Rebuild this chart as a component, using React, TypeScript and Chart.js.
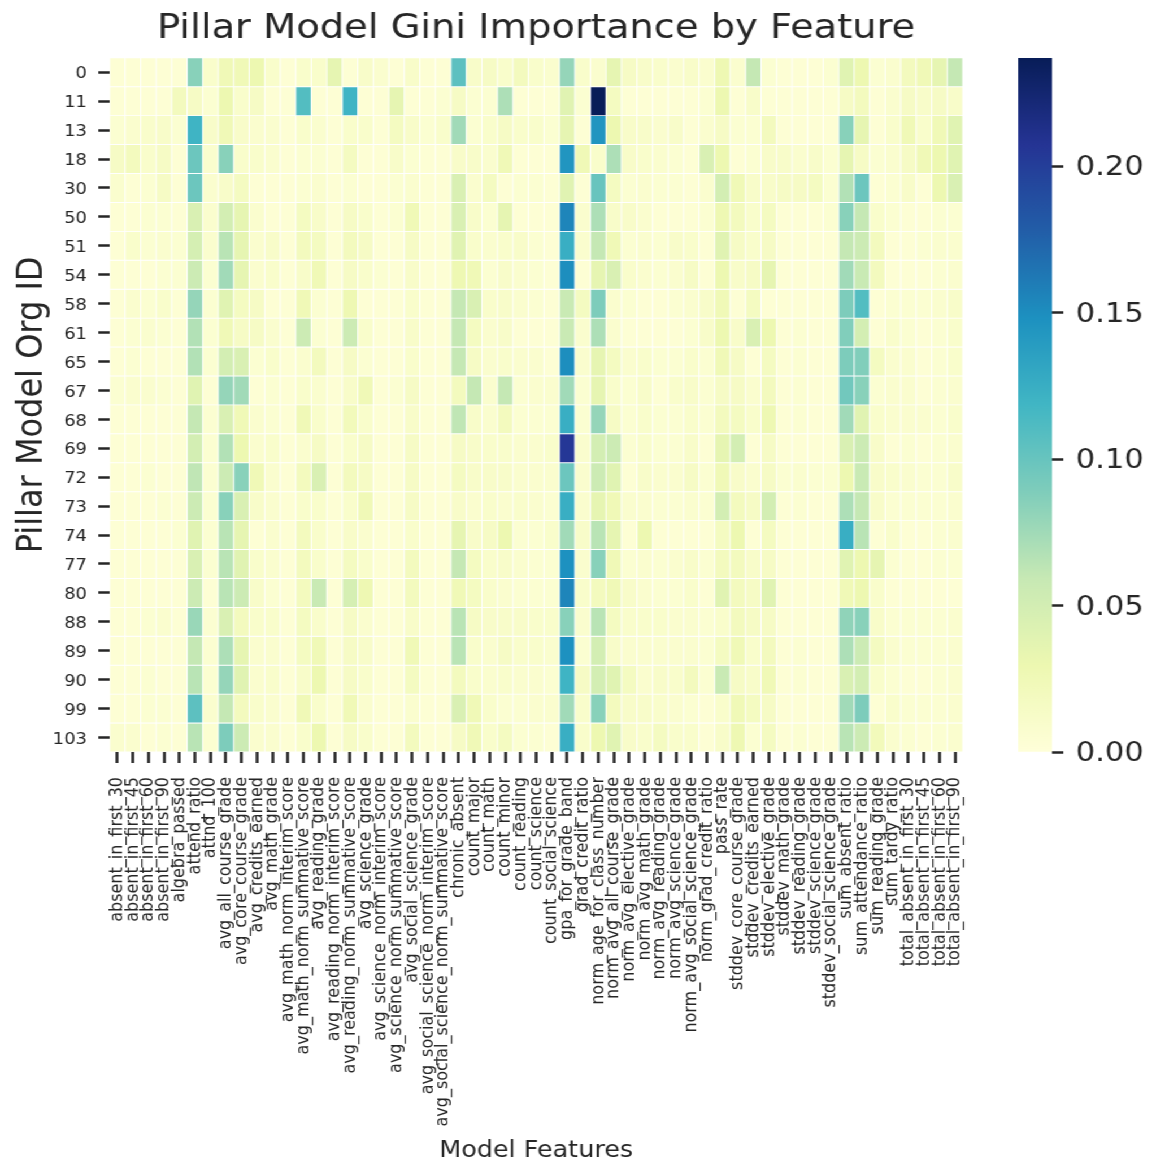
import React, { useEffect, useRef } from 'react';
import { Chart, registerables } from 'chart.js';

Chart.register(...registerables);

// ---------------- data ----------------
const features = [
  'absent_in_first_30', 'absent_in_first_45', 'absent_in_first_60', 'absent_in_first_90', 'algebra_passed',
  'attend_ratio', 'attnd_100', 'avg_all_course_grade', 'avg_core_course_grade', 'avg_credits_earned',
  'avg_math_grade', 'avg_math_norm_interim_score', 'avg_math_norm_summative_score', 'avg_reading_grade', 'avg_reading_norm_interim_score',
  'avg_reading_norm_summative_score', 'avg_science_grade', 'avg_science_norm_interim_score', 'avg_science_norm_summative_score', 'avg_social_science_grade',
  'avg_social_science_norm_interim_score', 'avg_social_science_norm_summative_score', 'chronic_absent', 'count_major', 'count_math',
  'count_minor', 'count_reading', 'count_science', 'count_social_science', 'gpa_for_grade_band',
  'grad_credit_ratio', 'norm_age_for_class_number', 'norm_avg_all_course_grade', 'norm_avg_elective_grade', 'norm_avg_math_grade',
  'norm_avg_reading_grade', 'norm_avg_science_grade', 'norm_avg_social_science_grade', 'norm_grad_credit_ratio', 'pass_rate',
  'stddev_core_course_grade', 'stddev_credits_earned', 'stddev_elective_grade', 'stddev_math_grade', 'stddev_reading_grade',
  'stddev_science_grade', 'stddev_social_science_grade', 'sum_absent_ratio', 'sum_attendance_ratio', 'sum_reading_grade',
  'sum_tardy_ratio', 'total_absent_in_first_30', 'total_absent_in_first_45', 'total_absent_in_first_60', 'total_absent_in_first_90',
];

const orgIds = ['0', '11', '13', '18', '30', '50', '51', '54', '58', '61', '65', '67', '68', '69', '72', '73', '74', '77', '80', '88', '89', '90', '99', '103'];

const row_0 = [.004,.004,.004,.004,.004, .085,.010,.025,.025,.030, .010,.004,.010,.010,.035, .004,.012,.008,.004,.012, .004,.004,.105,.012,.015, .010,.020,.010,.008,.080, .010,.008,.035,.015,.012, .010,.008,.012,.008,.028, .008,.060,.006,.004,.004, .004,.006,.040,.030,.006, .008,.020,.025,.035,.060];
const row_11 = [.004,.004,.004,.004,.020, .015,.006,.030,.010,.015, .004,.004,.110,.004,.004, .120,.004,.004,.035,.004, .004,.006,.015,.006,.006, .070,.004,.004,.004,.040, .006,.237,.018,.004,.004, .004,.004,.004,.006,.030, .004,.012,.004,.004,.004, .004,.004,.015,.020,.004, .008,.015,.012,.015,.012];
const row_13 = [.006,.008,.010,.012,.006, .120,.012,.025,.012,.008, .008,.004,.010,.008,.004, .010,.010,.004,.018,.012, .006,.010,.075,.006,.010, .015,.010,.010,.006,.035, .004,.145,.030,.012,.012, .008,.012,.004,.008,.015, .006,.006,.020,.004,.004, .004,.004,.085,.035,.004, .010,.025,.010,.025,.040];
const row_18 = [.015,.020,.010,.015,.004, .098,.008,.085,.010,.010, .008,.004,.006,.006,.004, .018,.004,.004,.012,.006, .004,.004,.012,.012,.008, .025,.004,.004,.004,.145, .025,.010,.070,.012,.010, .008,.006,.004,.045,.030, .004,.006,.012,.012,.008, .012,.006,.035,.015,.006, .008,.015,.025,.030,.040];
const row_30 = [.008,.004,.006,.015,.004, .098,.008,.012,.018,.004, .004,.004,.006,.008,.004, .006,.004,.004,.006,.008, .004,.004,.045,.008,.018, .004,.006,.006,.004,.040, .004,.100,.018,.006,.008, .006,.006,.004,.008,.050, .025,.012,.012,.015,.015, .018,.006,.068,.098,.004, .006,.012,.004,.030,.045];
const row_50 = [.004,.004,.006,.006,.004, .045,.008,.050,.035,.008, .004,.004,.018,.012,.004, .015,.010,.004,.006,.025, .004,.004,.045,.012,.006, .035,.004,.004,.004,.155, .008,.070,.012,.012,.008, .004,.004,.004,.006,.028, .020,.010,.018,.004,.004, .004,.006,.085,.060,.010, .006,.004,.004,.006,.006];
const row_51 = [.004,.010,.006,.008,.006, .048,.008,.065,.035,.008, .012,.004,.020,.018,.004, .020,.015,.004,.004,.015, .004,.004,.040,.010,.008, .010,.012,.006,.004,.125, .008,.060,.025,.006,.008, .006,.012,.010,.004,.040, .015,.010,.015,.004,.004, .004,.004,.060,.055,.020, .004,.004,.006,.008,.008];
const row_54 = [.004,.004,.004,.006,.006, .055,.006,.075,.035,.008, .010,.004,.012,.025,.004, .015,.010,.006,.004,.012, .004,.004,.028,.025,.006, .012,.008,.006,.004,.150, .004,.035,.045,.010,.008, .006,.008,.015,.004,.030, .012,.015,.035,.004,.004, .004,.004,.075,.058,.020, .004,.004,.004,.006,.008];
const row_58 = [.004,.008,.006,.010,.004, .080,.006,.040,.018,.015, .004,.004,.025,.006,.004, .028,.004,.004,.004,.010, .004,.004,.060,.045,.010, .012,.008,.006,.004,.058, .018,.090,.008,.006,.004, .004,.006,.008,.012,.025, .004,.018,.004,.004,.004, .004,.004,.090,.110,.004, .006,.006,.006,.008,.012];
const row_61 = [.004,.006,.008,.006,.004, .068,.006,.025,.015,.015, .008,.004,.055,.006,.004, .055,.010,.004,.004,.012, .004,.004,.060,.018,.008, .012,.004,.004,.004,.058, .008,.070,.008,.004,.004, .004,.004,.006,.012,.030, .012,.045,.030,.004,.006, .004,.004,.088,.050,.004, .010,.006,.004,.006,.010];
const row_65 = [.004,.006,.004,.004,.004, .068,.006,.050,.045,.006, .010,.004,.008,.020,.004, .015,.006,.004,.004,.010, .004,.004,.060,.015,.008, .010,.008,.008,.004,.150, .008,.035,.018,.008,.010, .006,.006,.010,.006,.025, .015,.004,.018,.004,.006, .004,.004,.090,.088,.018, .008,.008,.004,.006,.010];
const row_67 = [.006,.008,.008,.006,.004, .040,.004,.080,.075,.004, .006,.004,.010,.008,.004, .012,.025,.004,.006,.015, .004,.004,.020,.060,.008, .060,.006,.008,.008,.075, .006,.035,.010,.006,.012, .004,.010,.012,.006,.015, .015,.008,.020,.004,.006, .004,.004,.095,.085,.006, .008,.008,.004,.006,.008];
const row_68 = [.004,.004,.004,.004,.004, .060,.006,.045,.025,.008, .006,.004,.025,.010,.004, .022,.010,.004,.004,.012, .004,.004,.062,.012,.008, .020,.006,.006,.006,.125, .006,.080,.015,.006,.010, .006,.006,.010,.006,.020, .018,.010,.028,.004,.006, .004,.004,.075,.040,.010, .008,.008,.008,.006,.010];
const row_69 = [.004,.004,.004,.004,.004, .050,.006,.068,.030,.008, .010,.004,.008,.015,.004, .010,.015,.004,.004,.015, .004,.004,.015,.012,.010, .010,.008,.008,.010,.205, .008,.050,.055,.006,.010, .006,.006,.012,.004,.035, .050,.004,.015,.004,.004, .004,.004,.045,.055,.012, .004,.006,.004,.006,.008];
const row_72 = [.004,.004,.006,.004,.004, .062,.006,.055,.085,.025, .008,.004,.020,.045,.004, .020,.015,.004,.004,.015, .004,.004,.018,.012,.012, .012,.008,.008,.008,.098, .008,.055,.040,.004,.012, .008,.008,.015,.006,.025, .012,.008,.015,.006,.008, .006,.006,.030,.058,.012, .010,.008,.006,.006,.012];
const row_73 = [.004,.004,.004,.006,.004, .055,.006,.085,.045,.012, .008,.004,.010,.010,.004, .010,.025,.004,.004,.015, .004,.004,.012,.008,.010, .008,.010,.008,.006,.125, .008,.035,.025,.008,.008, .006,.006,.008,.006,.050, .020,.015,.050,.004,.006, .004,.004,.070,.060,.012, .006,.006,.006,.006,.008];
const row_74 = [.004,.004,.004,.004,.006, .040,.006,.065,.035,.004, .008,.004,.020,.010,.004, .012,.008,.004,.004,.010, .004,.004,.035,.012,.015, .030,.006,.006,.010,.075, .012,.065,.035,.004,.030, .004,.004,.004,.004,.018, .030,.004,.018,.004,.004, .004,.004,.125,.065,.004, .010,.004,.004,.006,.008];
const row_77 = [.004,.004,.004,.004,.004, .045,.006,.065,.040,.010, .008,.004,.020,.010,.004, .018,.010,.004,.004,.020, .004,.004,.060,.018,.010, .012,.008,.006,.006,.148, .008,.085,.025,.006,.008, .006,.008,.012,.006,.020, .020,.012,.015,.004,.004, .004,.004,.040,.030,.035, .006,.004,.004,.006,.006];
const row_80 = [.004,.004,.004,.004,.004, .055,.004,.065,.055,.012, .006,.004,.020,.058,.004, .048,.028,.004,.004,.020, .004,.004,.025,.018,.010, .008,.006,.006,.006,.155, .010,.020,.025,.012,.008, .006,.006,.010,.004,.040, .020,.015,.040,.004,.004, .004,.004,.025,.030,.010, .004,.004,.004,.004,.004];
const row_88 = [.004,.004,.006,.008,.004, .078,.006,.045,.020,.010, .010,.004,.018,.010,.004, .015,.008,.004,.004,.012, .004,.004,.065,.015,.012, .012,.012,.010,.010,.085, .008,.065,.018,.010,.010, .010,.008,.008,.006,.010, .020,.015,.015,.004,.004, .004,.004,.082,.085,.012, .006,.006,.006,.006,.008];
const row_89 = [.004,.004,.004,.004,.004, .060,.006,.070,.035,.008, .008,.004,.018,.025,.004, .015,.012,.004,.004,.025, .004,.004,.065,.010,.008, .015,.010,.010,.008,.148, .006,.050,.012,.008,.008, .008,.008,.008,.006,.018, .025,.010,.020,.004,.006, .004,.004,.070,.055,.018, .008,.006,.006,.006,.008];
const row_90 = [.004,.004,.006,.004,.004, .065,.006,.080,.040,.008, .010,.004,.012,.030,.004, .015,.010,.004,.004,.018, .004,.004,.020,.010,.008, .010,.008,.008,.006,.120, .015,.050,.040,.018,.008, .012,.010,.020,.006,.058, .015,.012,.025,.004,.006, .004,.004,.045,.050,.010, .006,.004,.004,.006,.008];
const row_99 = [.004,.004,.006,.006,.004, .105,.008,.060,.020,.010, .008,.004,.025,.010,.004, .025,.008,.004,.004,.008, .004,.004,.045,.025,.010, .006,.006,.008,.008,.075, .010,.085,.020,.012,.012, .010,.008,.006,.004,.010, .025,.018,.015,.004,.004, .004,.004,.075,.090,.004, .010,.006,.006,.006,.008];
const row_103 = [.008,.008,.004,.006,.004, .065,.006,.090,.055,.008, .008,.004,.010,.030,.004, .015,.010,.004,.004,.020, .004,.004,.015,.025,.010, .018,.006,.006,.004,.125, .010,.030,.040,.012,.010, .018,.010,.010,.004,.012, .028,.006,.018,.004,.006, .004,.004,.065,.055,.022, .008,.006,.004,.006,.008];

const importanceRows = [
  row_0, row_11, row_13, row_18, row_30, row_50, row_51, row_54, row_58, row_61, row_65, row_67,
  row_68, row_69, row_72, row_73, row_74, row_77, row_80, row_88, row_89, row_90, row_99, row_103,
];

const colorbarTicks = [0, 0.05, 0.1, 0.15, 0.2];
const VMAX = 0.237;

// ---------------- style ----------------
const YLGNBU = ['#ffffd9', '#edf8b1', '#c7e9b4', '#7fcdbb', '#41b6c4', '#1d91c0', '#225ea8', '#253494', '#081d58'];
const TEXT = '#262626';
const FONT = "'DejaVu Sans', 'Liberation Sans', sans-serif";
const SX = 1.13; // horizontal stretch of the reference picture
const INNER_W = 1018;
const H = 1162;

Chart.defaults.font.family = FONT;
Chart.defaults.color = TEXT;

function hexToRgb(h: string): number[] {
  const n = parseInt(h.slice(1), 16);
  return [(n >> 16) & 255, (n >> 8) & 255, n & 255];
}
const STOPS = YLGNBU.map(hexToRgb);

function cmap(t: number): string {
  const tt = Math.max(0, Math.min(1, t));
  const n = STOPS.length - 1;
  const x = tt * n;
  const i = Math.min(Math.floor(x), n - 1);
  const f = x - i;
  const a = STOPS[i];
  const b = STOPS[i + 1];
  const c = a.map((v, k) => Math.round(v + (b[k] - v) * f));
  return `rgb(${c[0]},${c[1]},${c[2]})`;
}

export default function App() {
  const mainRef = useRef<HTMLCanvasElement>(null);
  const cbRef = useRef<HTMLCanvasElement>(null);

  useEffect(() => {
    document.body.style.overflow = 'hidden';

    const datasets = orgIds.map((id, r) => ({
      label: id,
      data: features.map(() => [r - 0.5, r + 0.5]),
      backgroundColor: importanceRows[r].map((v) => cmap(v / VMAX)),
      borderColor: '#ffffff',
      borderWidth: 0.8,
      borderSkipped: false,
      grouped: false,
      barPercentage: 1,
      categoryPercentage: 1,
    }));

    const main = new Chart(mainRef.current as HTMLCanvasElement, {
      type: 'bar',
      data: { labels: features, datasets: datasets as any },
      options: {
        responsive: false,
        animation: false,
        events: [],
        layout: { padding: { left: 0, right: 0, top: 0, bottom: 0 } },
        plugins: {
          legend: { display: false },
          tooltip: { enabled: false },
          title: {
            display: true,
            text: 'Pillar Model Gini Importance by Feature',
            font: { size: 34, weight: 'normal' as any },
            color: TEXT,
            padding: { top: 9, bottom: 8 },
          },
        },
        scales: {
          x: {
            type: 'category',
            offset: true,
            border: { display: false },
            grid: {
              drawOnChartArea: false,
              drawTicks: true,
              tickLength: 11,
              tickWidth: 2.5,
              tickColor: TEXT,
              offset: false,
            },
            ticks: {
              autoSkip: false,
              maxRotation: 90,
              minRotation: 90,
              font: { size: 16 },
              color: TEXT,
              padding: 14,
            },
            title: {
              display: true,
              text: 'Model Features',
              font: { size: 22.5, lineHeight: 1.0 },
              color: TEXT,
              padding: { top: 0, bottom: 0 },
            },
            afterFit: (s: any) => {
              s.height = 410;
            },
          },
          y: {
            type: 'linear',
            min: -0.5,
            max: orgIds.length - 0.5,
            reverse: true,
            border: { display: false },
            grid: {
              drawOnChartArea: false,
              drawTicks: true,
              tickLength: 10,
              tickWidth: 2.5,
              tickColor: TEXT,
            },
            afterBuildTicks: (s: any) => {
              s.ticks = orgIds.map((_, i) => ({ value: i }));
            },
            ticks: {
              autoSkip: false,
              font: { size: 16 },
              color: TEXT,
              padding: 10,
              labelOffset: 2,
              callback: (v: any) => orgIds[Math.round(Number(v))] ?? '',
            },
            title: {
              display: true,
              text: 'Pillar Model Org ID',
              font: { size: 32 },
              color: TEXT,
              padding: { top: 9, bottom: 0 },
            },
            afterFit: (s: any) => {
              s.width = 97;
            },
          },
          // empty right-hand spacer so that the title is centred over the cells
          y2: {
            type: 'linear',
            position: 'right',
            display: true,
            border: { display: false },
            grid: { display: false },
            ticks: { display: false },
            afterFit: (s: any) => {
              s.width = 97;
            },
          },
        },
      },
    });

    const cb = new Chart(cbRef.current as HTMLCanvasElement, {
      type: 'bar',
      data: {
        labels: [''],
        datasets: [
          {
            data: [[0, VMAX]] as any,
            backgroundColor: (ctx: any) => {
              const area = ctx.chart.chartArea;
              if (!area) return YLGNBU[0];
              const g = ctx.chart.ctx.createLinearGradient(0, area.bottom, 0, area.top);
              YLGNBU.forEach((c, i) => g.addColorStop(i / (YLGNBU.length - 1), c));
              return g;
            },
            borderWidth: 0,
            barPercentage: 1,
            categoryPercentage: 1,
          },
        ],
      },
      options: {
        responsive: false,
        animation: false,
        events: [],
        layout: { padding: { left: 51, right: 0, top: 58, bottom: 410 } },
        plugins: { legend: { display: false }, tooltip: { enabled: false }, title: { display: false } },
        scales: {
          x: { display: false },
          y: {
            position: 'right',
            min: 0,
            max: VMAX,
            border: { display: false },
            grid: {
              drawOnChartArea: false,
              drawTicks: true,
              tickLength: 10,
              tickWidth: 2.5,
              tickColor: TEXT,
            },
            afterBuildTicks: (s: any) => {
              s.ticks = colorbarTicks.map((v) => ({ value: v }));
            },
            ticks: {
              font: { size: 27 },
              color: TEXT,
              padding: 11,
              labelOffset: 2,
              callback: (v: any) => Number(v).toFixed(2),
            },
            afterFit: (s: any) => {
              s.width = 87;
            },
          },
        },
      },
    });

    return () => {
      main.destroy();
      cb.destroy();
    };
  }, []);

  return (
    <div
      style={{
        position: 'absolute',
        left: 0,
        top: 0,
        width: INNER_W,
        height: H,
        transform: `scaleX(${SX})`,
        transformOrigin: '0 0',
        background: '#ffffff',
      }}
    >
      <canvas ref={mainRef} width={949} height={H} style={{ position: 'absolute', left: 0, top: 0 }} />
      <canvas ref={cbRef} width={168} height={H} style={{ position: 'absolute', left: 850, top: 0 }} />
    </div>
  );
}
